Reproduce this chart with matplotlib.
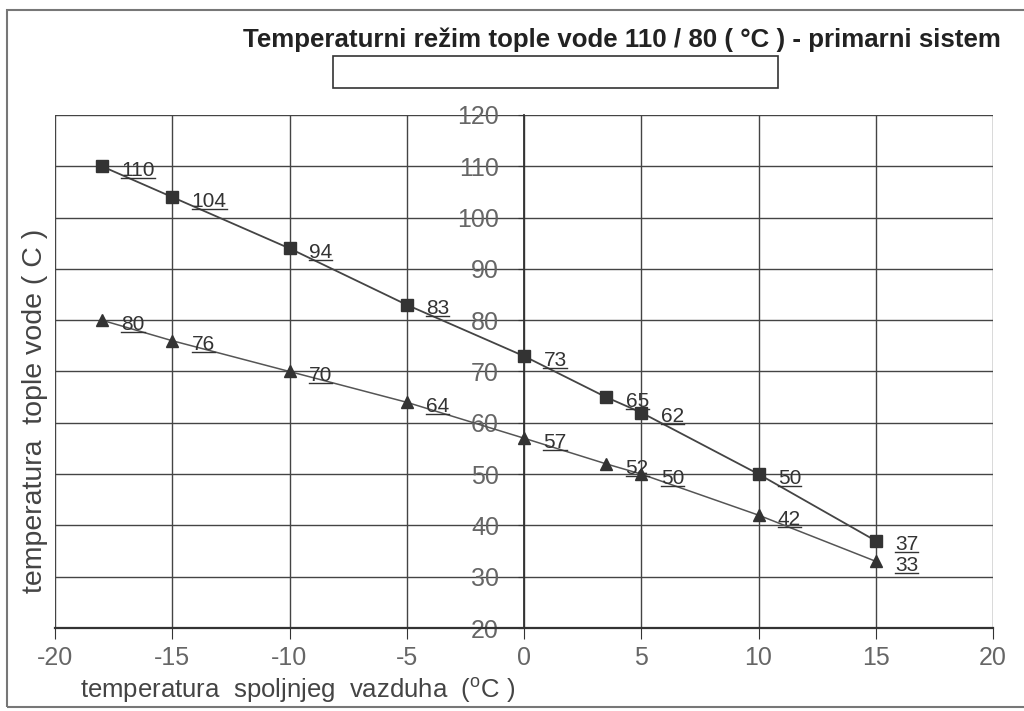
import matplotlib.pyplot as plt
from matplotlib.patches import Rectangle
from matplotlib.lines import Line2D

# outdoor air temperature (°C)
x_out = [-18, -15, -10, -5, 0, 3.5, 5, 10, 15]
# supply water temperature (squares)
t_supply = [110, 104, 94, 83, 73, 65, 62, 50, 37]
# return water temperature (triangles)
t_return = [80, 76, 70, 64, 57, 52, 50, 42, 33]

x_ticks = [-20, -15, -10, -5, 0, 5, 10, 15, 20]
y_ticks = [20, 30, 40, 50, 60, 70, 80, 90, 100, 110, 120]

plt.rcParams['font.family'] = ['Liberation Sans', 'DejaVu Sans']
plt.rcParams['mathtext.fontset'] = 'custom'
plt.rcParams['mathtext.rm'] = 'Liberation Sans'
plt.rcParams['mathtext.default'] = 'regular'
plt.rcParams['axes.unicode_minus'] = False

fig = plt.figure(figsize=(10.24, 7.11), dpi=100)
ax = fig.add_axes([55 / 1024, 1 - 628 / 711, (993 - 55) / 1024, (628 - 115) / 711])

ax.set_xlim(-20, 20)
ax.set_ylim(20, 120)
ax.set_xticks(x_ticks)
ax.set_yticks(y_ticks)
ax.grid(True, color='#444444', linewidth=1.0)
ax.set_axisbelow(True)

for s in ['top', 'right']:
    ax.spines[s].set_visible(False)
ax.spines['left'].set_position(('data', 0))
ax.spines['left'].set_color('#333333')
ax.spines['left'].set_linewidth(1.3)
ax.spines['bottom'].set_color('#333333')
ax.spines['bottom'].set_linewidth(1.6)

ax.tick_params(axis='y', direction='out', length=4, color='#333333',
               labelsize=18, labelcolor='#666666', pad=14)
ax.tick_params(axis='x', direction='out', length=8, color='#333333',
               labelsize=18, labelcolor='#666666', pad=5)

ax.plot(x_out, t_supply, color='#444444', lw=1.3, marker='s', ms=8,
        mfc='#333333', mec='#333333', zorder=3)
ax.plot(x_out, t_return, color='#555555', lw=1.1, marker='^', ms=8,
        mfc='#333333', mec='#333333', zorder=3)

labels = []
for xv, yv in zip(x_out, t_supply):
    labels.append(ax.annotate(str(yv), (xv, yv), xytext=(14, -3),
                              textcoords='offset points', ha='left', va='center',
                              fontsize=15, color='#333333', zorder=4))
for xv, yv in zip(x_out, t_return):
    labels.append(ax.annotate(str(yv), (xv, yv), xytext=(14, -3),
                              textcoords='offset points', ha='left', va='center',
                              fontsize=15, color='#333333', zorder=4))

fig.text(80 / 1024, 1 - 690 / 711,
         r'temperatura  spoljnjeg  vazduha  ($^{o}$C )', fontsize=18.5,
         color='#444444', ha='left', va='center')
fig.text(35 / 1024, 1 - 411 / 711, 'temperatura  tople vode ( C )',
         fontsize=20.5, color='#444444', rotation=90, ha='center', va='center')

fig.text(243 / 1024, 1 - 40 / 711,
         'Temperaturni režim tople vode 110 / 80 ( °C ) - primarni sistem',
         fontsize=18.6, fontweight='bold', color='#222222',
         ha='left', va='center')

fig.patches.append(Rectangle((333 / 1024, 1 - 88 / 711), 445 / 1024, 32 / 711,
                             transform=fig.transFigure, fill=False,
                             edgecolor='#333333', lw=1.2))
fig.patches.append(Rectangle((7 / 1024, 1 - 707 / 711), 1.1, 697 / 711,
                             transform=fig.transFigure, fill=False,
                             edgecolor='#777777', lw=1.5))

# underline the value labels
fig.canvas.draw()
for t in labels:
    bb = t.get_window_extent()
    fig.add_artist(Line2D([bb.x0, bb.x1], [bb.y0 + 2, bb.y0 + 2],
                          transform=None, color='#333333', lw=1.0))

fig.savefig('out.png', dpi=100)
